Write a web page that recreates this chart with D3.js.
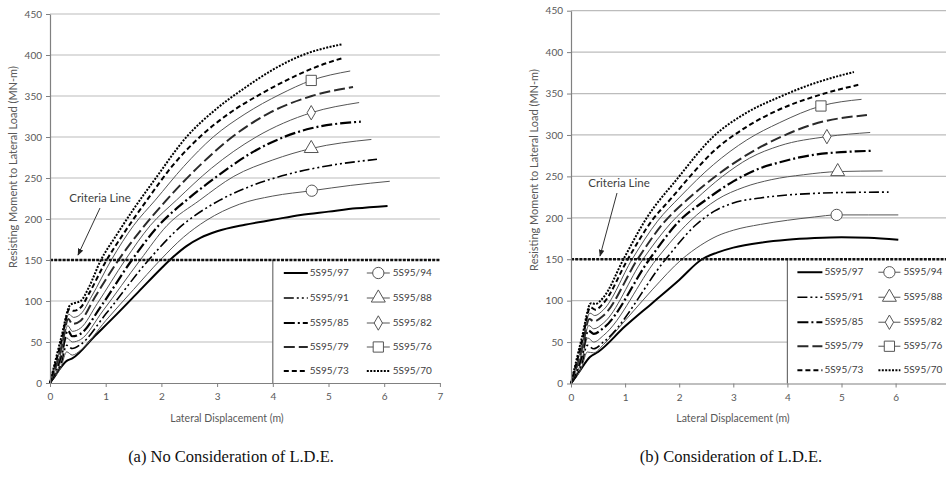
<!DOCTYPE html>
<html>
<head>
<meta charset="utf-8">
<script src="https://cdnjs.cloudflare.com/ajax/libs/d3/7.8.5/d3.min.js"></script>
<style>
body { margin: 0; background: #fff; }
svg { display: block; font-family: Lato, "Open Sans", sans-serif; }
</style>
</head>
<body>
<svg id="fig" width="946" height="493"></svg>
<script>
// axis ticks
const yTicks = [0, 50, 100, 150, 200, 250, 300, 350, 400, 450];
const xTicksA = [0, 1, 2, 3, 4, 5, 6, 7];
const xTicksB = [0, 1, 2, 3, 4, 5, 6];
const criteriaValue = 150;

const seriesNames = ["5S95/97", "5S95/94", "5S95/91", "5S95/88", "5S95/85",
                     "5S95/82", "5S95/79", "5S95/76", "5S95/73", "5S95/70"];

// (a) No Consideration of L.D.E.  -- [displacement (m), moment (MN-m)]
const a97 = [[0,0],[0.15,15],[0.3,27],[0.4,30],[0.8,57],[1.2,84],[1.6,112],[2.0,140],[2.2,153],[2.45,167],[2.7,177],[3.0,185],[3.5,193],[4.0,199],[4.5,205],[5.0,209],[5.5,213],[6.06,216]];
const a94 = [[0,0],[0.2,20],[0.3,38],[0.4,34],[0.55,40],[1.0,76],[1.5,114],[1.98,150],[2.4,178],[2.8,198],[3.4,218],[4.0,228],[4.7,234.5],[5.4,241],[6.1,246]];
const a91 = [[0,0],[0.2,24],[0.3,46],[0.4,42],[0.55,47],[1.0,84],[1.77,150],[2.3,188],[3.05,223],[3.6,240],[4.3,255],[5.0,265],[5.87,272.8]];
const a88 = [[0,0],[0.2,28],[0.3,55],[0.4,50],[0.55,53],[0.95,88],[1.62,150],[2.1,192],[2.69,223],[3.3,252],[4.0,272],[4.69,286],[5.77,297]];
const a85 = [[0,0],[0.2,33],[0.32,64],[0.4,57],[0.55,60],[0.9,92],[1.47,150],[1.95,192],[2.45,223],[3.0,252],[3.6,280],[4.2,300],[4.69,310.6],[5.58,318.7]];
const a82 = [[0,0],[0.2,37],[0.32,70],[0.4,63],[0.55,67],[0.85,97],[1.35,150],[1.8,192],[2.27,223],[2.9,262],[3.7,300],[4.69,329.6],[5.55,342]];
const a79 = [[0,0],[0.2,42],[0.33,78],[0.4,72],[0.55,76],[0.8,104],[1.23,150],[1.65,188],[2.09,223],[2.7,266],[3.27,300],[3.9,328],[4.7,350],[5.44,361]];
const a76 = [[0,0],[0.2,46],[0.34,84],[0.42,80],[0.55,84],[0.75,106],[1.1,150],[1.5,192],[1.89,223],[2.4,264],[2.93,300],[3.5,328],[4.13,352],[4.69,369],[5.39,380.5]];
const a73 = [[0,0],[0.2,50],[0.35,90],[0.42,88],[0.55,92],[0.7,109],[1.0,148],[1.3,180],[1.74,223],[2.2,265],[2.69,300],[3.2,328],[3.77,352],[4.3,371],[4.8,386],[5.24,396]];
const a70 = [[0,0],[0.2,55],[0.36,95],[0.42,97],[0.55,100],[0.7,117],[0.9,148],[1.2,181],[1.5,212],[1.9,250],[2.45,300],[3.0,335],[3.5,360],[4.0,382],[4.5,399],[5.24,413]];
const markerXA = [null, 4.7, null, 4.69, null, 4.69, null, 4.69, null, null];

// (b) Consideration of L.D.E.
const b97 = [[0,0],[0.15,14],[0.35,32],[0.5,38],[1.0,69],[1.5,97],[2.0,125],[2.42,150],[2.7,158],[3.0,164],[3.5,170],[4.0,173.5],[4.5,175.5],[5.0,176.5],[5.5,176],[6.05,173.5]];
const b94 = [[0,0],[0.2,20],[0.3,38],[0.42,37],[0.6,47],[1.0,76],[1.5,113],[2.05,150],[2.4,167],[2.7,178],[3.0,185],[3.5,192],[4.0,197],[4.5,201],[4.91,203.5],[5.5,203.5],[6.05,203.5]];
const b91 = [[0,0],[0.2,24],[0.3,46],[0.42,42],[0.6,50],[1.75,150],[2.3,191],[2.65,208],[3.0,218],[3.5,224],[4.0,227.5],[4.5,229.5],[5.0,230.5],[5.87,231]];
const b88 = [[0,0],[0.2,28],[0.31,55],[0.42,50],[0.6,58],[1.58,150],[2.2,196],[2.7,222],[3.2,237],[3.7,246],[4.3,252],[4.93,255.8],[5.76,256.6]];
const b85 = [[0,0],[0.2,33],[0.32,64],[0.42,60],[0.6,67],[1.45,150],[2.0,196],[2.5,222],[3.0,244],[3.5,260],[3.86,267],[4.48,276],[5.59,281]];
const b82 = [[0,0],[0.2,37],[0.33,70],[0.42,66],[0.6,73],[1.33,150],[1.85,194],[2.3,222],[2.8,250],[3.3,272],[3.86,287],[4.73,298],[5.53,303]];
const b79 = [[0,0],[0.2,42],[0.34,78],[0.42,75],[0.6,82],[1.23,150],[1.7,193],[2.15,222],[2.63,248],[3.25,276],[3.86,297],[4.48,313],[5.47,324]];
const b76 = [[0,0],[0.2,46],[0.35,85],[0.44,82],[0.6,89],[1.13,150],[1.6,196],[2.01,225],[2.63,264],[3.25,294],[3.86,315],[4.62,335],[5.37,343]];
const b73 = [[0,0],[0.2,50],[0.36,92],[0.45,89],[0.6,97],[1.05,150],[1.5,197],[1.86,224],[2.2,250],[2.63,280],[3.25,310],[3.86,331],[4.48,346],[5.31,360.5]];
const b70 = [[0,0],[0.2,55],[0.37,97],[0.45,96],[0.6,104],[0.97,150],[1.4,200],[1.95,246],[2.63,298],[3.25,327],[3.86,346],[4.48,362],[5.23,376]];
const markerXB = [null, 4.91, null, 4.93, null, 4.73, null, 4.62, null, null];

// line look of each series (same order as seriesNames)
const styles = [
    {w: 2,   c: "#000",    dash: null},
    {w: 1,   c: "#555",    dash: null, mk: d3.symbolCircle,   size: 100},
    {w: 1.6, c: "#000",    dash: "10,3,2,3,2,3"},
    {w: 1,   c: "#555",    dash: null, mk: d3.symbolTriangle, size: 85},
    {w: 2.2, c: "#000",    dash: "11,3,2,3"},
    {w: 1,   c: "#555",    dash: null, mk: d3.symbolDiamond,  size: 60},
    {w: 2,   c: "#2a2a2a", dash: "11,4"},
    {w: 1,   c: "#555",    dash: null, mk: d3.symbolSquare,   size: 105},
    {w: 2,   c: "#000",    dash: "5,3"},
    {w: 2,   c: "#000",    dash: "2,1.4"}
];

const panels = [
    {data: [a97, a94, a91, a88, a85, a82, a79, a76, a73, a70], markers: markerXA, xTicks: xTicksA,
     left: 50, unitX: 55.7, top: 14, bottom: 383,
     yTitleX: 14, yTitleY: 167, xTitleX: 227, xTitleY: 419,
     legCols: [[11, 35, 37], [94, 117, 120]],
     note: {x: 100, y: 202, ax1: 100, ay1: 208, ax2: 78, ay2: 255},
     caption: "(a) No Consideration of L.D.E.", capX: 231},
    {data: [b97, b94, b91, b88, b85, b82, b79, b76, b73, b70], markers: markerXB, xTicks: xTicksB,
     left: 571, unitX: 54.1, top: 10.7, bottom: 383.5,
     yTitleX: 535, yTitleY: 170, xTitleX: 733, xTitleY: 419,
     legCols: [[10, 35, 37], [91, 113, 116]],
     note: {x: 619, y: 187, ax1: 617, ay1: 193, ax2: 600, ay2: 256},
     caption: "(b) Consideration of L.D.E.", capX: 731}
];

const svg = d3.select("#fig");

svg.append("defs").append("marker")
    .attr("id", "arrow")
    .attr("viewBox", "0 0 10 10")
    .attr("refX", 9).attr("refY", 5)
    .attr("markerWidth", 7).attr("markerHeight", 7)
    .attr("orient", "auto")
    .append("path").attr("d", "M0,1L10,5L0,9Z").attr("fill", "#222");

function drawPanel(p) {
    let g = svg.append("g");
    let x = d3.scaleLinear().domain([0, 7]).range([p.left, p.left + 7 * p.unitX]);
    let y = d3.scaleLinear().domain([0, 450]).range([p.bottom, p.top]);

    // gridlines
    g.append("g").selectAll("line")
        .data(yTicks.filter(v => v > 0))
        .enter().append("line")
        .attr("x1", x(0)).attr("x2", x(7))
        .attr("y1", d => y(d)).attr("y2", d => y(d))
        .attr("stroke", "#bcbcbc").attr("stroke-width", 1.2);

    // legend box sits in the lower right corner of the plot
    let lx = x(4), ly = y(criteriaValue);
    g.append("rect")
        .attr("x", lx).attr("y", ly)
        .attr("width", x(7) - lx).attr("height", y(0) - ly)
        .attr("fill", "#fff");
    g.append("line")
        .attr("x1", lx).attr("x2", lx).attr("y1", ly).attr("y2", y(0))
        .attr("stroke", "#6e6e6e").attr("stroke-width", 1.2);

    let line = d3.line()
        .x(d => x(d[0]))
        .y(d => y(d[1]))
        .curve(d3.curveMonotoneX);

    p.data.forEach(function(series, i) {
        let st = styles[i];
        g.append("path")
            .attr("d", line(series))
            .attr("fill", "none")
            .attr("stroke", st.c)
            .attr("stroke-width", st.w)
            .attr("stroke-dasharray", st.dash)
            .attr("stroke-linejoin", "round");
        if (st.mk && p.markers[i] != null) {
            let pt = series.find(d => d[0] == p.markers[i]);
            g.append("path")
                .attr("d", d3.symbol().type(st.mk).size(st.size)())
                .attr("transform", "translate(" + [x(pt[0]), y(pt[1])] + ")")
                .attr("fill", "#fff").attr("stroke", "#555").attr("stroke-width", 1);
        }
    });

    // criteria line
    g.append("line")
        .attr("x1", x(0)).attr("x2", x(7))
        .attr("y1", y(criteriaValue)).attr("y2", y(criteriaValue))
        .attr("stroke", "#111").attr("stroke-width", 2.4)
        .attr("stroke-dasharray", "3,1.2");

    // axes
    let yAxis = g.append("g")
        .attr("transform", "translate(" + x(0) + ",0)")
        .call(d3.axisLeft(y).tickValues(yTicks).tickSize(4).tickSizeOuter(0).tickPadding(4));
    let xAxis = g.append("g")
        .attr("transform", "translate(0," + y(0) + ")")
        .call(d3.axisBottom(x).tickValues(p.xTicks).tickFormat(d3.format("d"))
            .tickSize(4).tickSizeOuter(0).tickPadding(6));
    [yAxis, xAxis].forEach(function(ax) {
        ax.select(".domain").attr("stroke", "#808080").attr("stroke-width", 1.2);
        ax.selectAll(".tick line").attr("stroke", "#808080");
        ax.selectAll("text")
            .attr("fill", "#595959")
            .style("font-size", "10px")
            .style("font-family", "Lato, 'Open Sans', sans-serif");
    });

    // axis titles
    g.append("text")
        .attr("transform", "translate(" + p.yTitleX + "," + p.yTitleY + ") rotate(-90)")
        .attr("text-anchor", "middle").attr("dominant-baseline", "middle")
        .attr("fill", "#595959").style("font-size", "11px")
        .text("Resisting Moment to Lateral Load (MN-m)");
    g.append("text")
        .attr("x", p.xTitleX).attr("y", p.xTitleY)
        .attr("text-anchor", "middle").attr("dominant-baseline", "middle")
        .attr("fill", "#595959").style("font-size", "10.5px")
        .text("Lateral Displacement (m)");

    // legend entries, two columns
    let rows = [13, 38, 63, 87, 111];
    seriesNames.forEach(function(name, i) {
        let st = styles[i];
        let c = p.legCols[i % 2], ry = ly + rows[Math.floor(i / 2)];
        g.append("line")
            .attr("x1", lx + c[0]).attr("x2", lx + c[1])
            .attr("y1", ry).attr("y2", ry)
            .attr("stroke", st.c).attr("stroke-width", st.w)
            .attr("stroke-dasharray", st.dash);
        if (st.mk) {
            g.append("path")
                .attr("d", d3.symbol().type(st.mk).size(st.size)())
                .attr("transform", "translate(" + [lx + (c[0] + c[1]) / 2, ry] + ")")
                .attr("fill", "#fff").attr("stroke", "#555").attr("stroke-width", 1);
        }
        g.append("text")
            .attr("x", lx + c[2]).attr("y", ry)
            .attr("dominant-baseline", "middle")
            .attr("fill", "#404040").style("font-size", "10px")
            .text(name);
    });

    // criteria note with arrow
    g.append("text")
        .attr("x", p.note.x).attr("y", p.note.y)
        .attr("text-anchor", "middle")
        .attr("fill", "#404040").style("font-size", "11.5px")
        .text("Criteria Line");
    g.append("line")
        .attr("x1", p.note.ax1).attr("y1", p.note.ay1)
        .attr("x2", p.note.ax2).attr("y2", p.note.ay2)
        .attr("stroke", "#333").attr("stroke-width", 1)
        .attr("marker-end", "url(#arrow)");

    // caption under the chart
    svg.append("text")
        .attr("x", p.capX).attr("y", 462)
        .attr("text-anchor", "middle")
        .style("font-family", "'Liberation Serif', 'Times New Roman', serif")
        .style("font-size", "16.5px")
        .attr("fill", "#111")
        .text(p.caption);
}

panels.forEach(drawPanel);
</script>
</body>
</html>
